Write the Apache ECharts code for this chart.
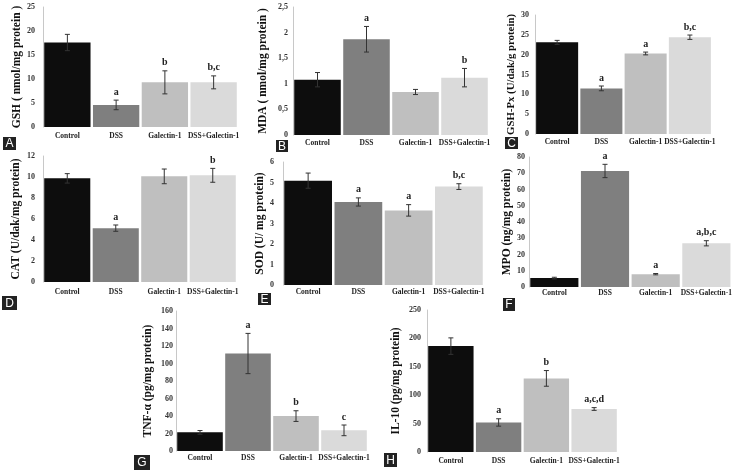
<!DOCTYPE html>
<html>
<head>
<meta charset="utf-8">
<script src="https://cdn.jsdelivr.net/npm/echarts@6/dist/echarts.min.js"></script>
<style>html,body{margin:0;padding:0;background:#fff}#c{width:735px;height:472px}</style>
</head>
<body>
<div id="c"></div>
<script>
const categories = ['Control', 'DSS', 'Galectin-1', 'DSS+Galectin-1'];
const barColors = ['#0d0d0d', '#7f7f7f', '#bfbfbf', '#dadada'];

const gshVal = [17.6, 4.6, 9.3, 9.3];
const gshErr = [1.7, 1.0, 2.4, 1.35];
const gshSig = ['', 'a', 'b', 'b,c'];

const mdaVal = [1.08, 1.87, 0.84, 1.12];
const mdaErr = [0.14, 0.25, 0.05, 0.18];
const mdaSig = ['', 'a', '', 'b'];

const gpxVal = [23.1, 11.5, 20.3, 24.4];
const gpxErr = [0.5, 0.6, 0.35, 0.55];
const gpxSig = ['', 'a', 'a', 'b,c'];

const catVal = [9.87, 5.13, 10.06, 10.16];
const catErr = [0.45, 0.3, 0.7, 0.66];
const catSig = ['', 'a', '', 'b'];

const sodVal = [5.09, 4.05, 3.64, 4.80];
const sodErr = [0.37, 0.2, 0.28, 0.14];
const sodSig = ['', 'a', 'a', 'b,c'];

const mpoVal = [5.5, 71.4, 7.9, 26.9];
const mpoErr = [0.5, 4.1, 0.4, 1.6];
const mpoSig = ['', 'a', 'a', 'a,b,c'];

const tnfVal = [21.3, 111.4, 39.9, 23.6];
const tnfErr = [2.1, 23, 6.1, 6.1];
const tnfSig = ['', 'a', 'b', 'c'];

const il10Val = [186.4, 52, 129.6, 75.7];
const il10Err = [14.5, 6.5, 13.8, 2.4];
const il10Sig = ['', 'a', 'b', 'a,c,d'];

const FONT = "'Liberation Serif', 'DejaVu Serif', serif";

const panels = [
  {tag:'A', title:'GSH ( nmol/mg protein )', val:gshVal, err:gshErr, sig:gshSig, max:25, interval:5,
   grid:{left:43, top:7, width:195, height:120}, tickMargin:8, catMargin:5, nameGap:17, nameSize:11.5, box:[3,137,13,13]},
  {tag:'B', title:'MDA ( nmol/mg protein )', val:mdaVal, err:mdaErr, sig:mdaSig, max:2.5, interval:0.5, comma:true,
   grid:{left:293, top:7, width:196, height:128}, tickMargin:5, catMargin:4, nameGap:24, nameSize:11.5, box:[276,140,12,12]},
  {tag:'C', title:'GSH-Px (U/dak/g protein)', val:gpxVal, err:gpxErr, sig:gpxSig, max:30, interval:5,
   grid:{left:535, top:15, width:177, height:119}, tickMargin:6, catMargin:4, nameGap:18, nameSize:10.8, box:[505,137,13,12]},
  {tag:'D', title:'CAT (U/dak/mg protein)', val:catVal, err:catErr, sig:catSig, max:12, interval:2,
   grid:{left:43, top:156, width:194, height:126}, tickMargin:8, catMargin:6, nameGap:21, nameSize:11.5, box:[2,296,15,14]},
  {tag:'E', title:'SOD (U/ mg protein)', val:sodVal, err:sodErr, sig:sodSig, max:6, interval:1,
   grid:{left:283, top:162, width:201, height:123}, tickMargin:9, catMargin:3, nameGap:17, nameSize:11.5, box:[258,293,13,12]},
  {tag:'F', title:'MPO (ng/mg protein)', val:mpoVal, err:mpoErr, sig:mpoSig, max:80, interval:10,
   grid:{left:529, top:157, width:203, height:130}, tickMargin:4, catMargin:2, nameGap:16, nameSize:11.5, box:[503,298,12,13]},
  {tag:'G', title:'TNF-α (pg/mg protein)', val:tnfVal, err:tnfErr, sig:tnfSig, max:160, interval:20,
   grid:{left:176, top:311, width:192, height:140}, tickMargin:3, catMargin:3, nameGap:22, nameSize:11.5, box:[134,455,16,15]},
  {tag:'H', title:'IL-10 (pg/mg protein)', val:il10Val, err:il10Err, sig:il10Sig, max:250, interval:50,
   grid:{left:427, top:310, width:191, height:142}, tickMargin:6, catMargin:5, nameGap:25, nameSize:11.5, box:[384,453,13,14]}
];

const grids = [], xAxes = [], yAxes = [], series = [], graphics = [];

panels.forEach((p, k) => {
  grids.push(Object.assign({containLabel:false}, p.grid));
  xAxes.push({
    type:'category', gridIndex:k, data:categories,
    axisLine:{show:false}, axisTick:{show:false},
    axisLabel:{interval:0, margin:p.catMargin, color:'#222', fontFamily:FONT, fontWeight:'bold', fontSize:7.5}
  });
  yAxes.push({
    type:'value', gridIndex:k, min:0, max:p.max, interval:p.interval,
    name:p.title, nameLocation:'middle', nameGap:p.nameGap, nameRotate:90,
    nameTextStyle:{color:'#111', fontFamily:FONT, fontWeight:'bold', fontSize:p.nameSize},
    axisLine:{show:true, lineStyle:{color:'#c8c8c8', width:1}},
    axisTick:{show:false}, splitLine:{show:false},
    axisLabel:{margin:p.tickMargin, color:'#333', fontFamily:FONT, fontWeight:'bold', fontSize:8,
      formatter: v => p.comma ? String(v).replace('.', ',') : String(v)}
  });
  series.push({
    type:'bar', xAxisIndex:k, yAxisIndex:k, barCategoryGap:'5%',
    data:p.val.map((v,i)=>({value:v, itemStyle:{color:barColors[i]}})),
    silent:true
  });
  series.push({
    type:'custom', xAxisIndex:k, yAxisIndex:k, silent:true, z:5,
    data:p.val.map((v,i)=>[i, v, p.err[i]]),
    renderItem:(params, api) => {
      const i = api.value(0), v = api.value(1), e = api.value(2);
      const top = api.coord([i, v + e]);
      const bot = api.coord([i, v - e]);
      const hw = 2.5;
      const children = [
        {type:'line', shape:{x1:top[0], y1:top[1], x2:bot[0], y2:bot[1]}, style:{stroke:'#333', lineWidth:1}},
        {type:'line', shape:{x1:top[0]-hw, y1:top[1], x2:top[0]+hw, y2:top[1]}, style:{stroke:'#333', lineWidth:1}},
        {type:'line', shape:{x1:bot[0]-hw, y1:bot[1], x2:bot[0]+hw, y2:bot[1]}, style:{stroke:'#333', lineWidth:1}}
      ];
      const s = p.sig[params.dataIndex];
      if (s) {
        children.push({type:'text', style:{text:s, x:top[0], y:top[1]-3, align:'center', verticalAlign:'bottom',
          fill:'#222', font:"bold 10px " + FONT}});
      }
      return {type:'group', children};
    }
  });
  const b = p.box;
  graphics.push({
    type:'group', left:b[0], top:b[1], children:[
      {type:'rect', shape:{x:0, y:0, width:b[2], height:b[3]}, style:{fill:'#222'}},
      {type:'text', style:{text:p.tag, x:b[2]/2, y:b[3]/2+0.5, align:'center', verticalAlign:'middle',
        fill:'#fff', font:"12px 'Liberation Sans', Arial, sans-serif"}}
    ]
  });
});

const chart = echarts.init(document.getElementById('c'), null, {renderer:'canvas'});
chart.setOption({
  animation:false,
  backgroundColor:'#fff',
  grid:grids, xAxis:xAxes, yAxis:yAxes, series:series, graphic:graphics
});
</script>
</body>
</html>
